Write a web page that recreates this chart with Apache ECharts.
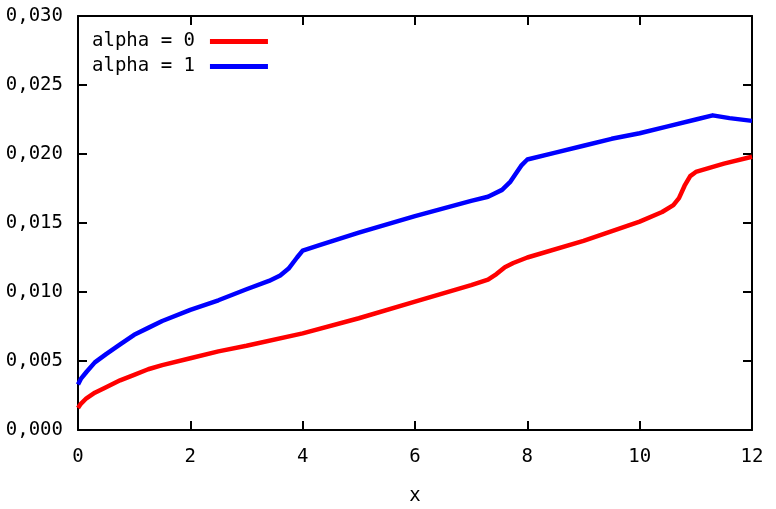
<!DOCTYPE html>
<html><head><meta charset="utf-8">
<script src="https://cdn.jsdelivr.net/npm/echarts@6/dist/echarts.min.js"></script>
<style>html,body{margin:0;padding:0;background:#fff}#c{width:776px;height:509px}</style>
</head><body><div id="c"></div>
<script>
const seriesNames = ['alpha = 0', 'alpha = 1'];
const xAlpha0 = [0, 0.05, 0.15, 0.3, 0.5, 0.75, 1, 1.25, 1.5, 2, 2.5, 3, 4, 5, 6, 7, 7.3, 7.45, 7.6, 7.75, 8, 9, 10, 10.4, 10.6, 10.7, 10.8, 10.9, 11, 11.5, 12];
const yAlpha0 = [0.0016, 0.0019, 0.0023, 0.0027, 0.0031, 0.0036, 0.0040, 0.0044, 0.0047, 0.0052, 0.0057, 0.0061, 0.0070, 0.0081, 0.0093, 0.0105, 0.0109, 0.0113, 0.0118, 0.0121, 0.0125, 0.0137, 0.0151, 0.0158, 0.0163, 0.0168, 0.0177, 0.0184, 0.0187, 0.0193, 0.0198];
const xAlpha1 = [0, 0.05, 0.15, 0.3, 0.5, 0.75, 1, 1.25, 1.5, 2, 2.5, 3, 3.4, 3.6, 3.75, 3.9, 4, 4.3, 5, 6, 7, 7.3, 7.55, 7.7, 7.8, 7.9, 8, 8.5, 9, 9.5, 10, 10.5, 11, 11.3, 11.6, 12];
const yAlpha1 = [0.0033, 0.0037, 0.0042, 0.0049, 0.0055, 0.0062, 0.0069, 0.0074, 0.0079, 0.0087, 0.0094, 0.0102, 0.0108, 0.0112, 0.0117, 0.0125, 0.0130, 0.0134, 0.0143, 0.0155, 0.0166, 0.0169, 0.0174, 0.0180, 0.0186, 0.0192, 0.0196, 0.0201, 0.0206, 0.0211, 0.0215, 0.0220, 0.0225, 0.0228, 0.0226, 0.0224];
const colors = ['#ff0000', '#0000ff'];
const xTicks = {min: 0, max: 12, interval: 2};
const yTicks = {min: 0, max: 0.03, interval: 0.005};

const font = 'DejaVu Sans Mono';
const pairs = (xs, ys) => xs.map((x, i) => [x, ys[i]]);
const chart = echarts.init(document.getElementById('c'), null, {renderer: 'canvas'});
const axisLine = {show: true, onZero: false, lineStyle: {color: '#000', width: 2}};
const tick = {show: true, inside: true, length: 9, lineStyle: {color: '#000', width: 2}};
chart.setOption({
  animation: false,
  backgroundColor: '#fff',
  grid: {left: 78, right: 24, top: 16, bottom: 79, containLabel: false, outerBoundsMode: 'none'},
  legend: {
    orient: 'vertical', left: 87, top: 27, align: 'right',
    icon: 'rect', itemWidth: 58, itemHeight: 5, itemGap: 6,
    textStyle: {fontFamily: font, fontSize: 19, color: '#000', padding: [0, 10, 0, 0]},
    data: seriesNames
  },
  xAxis: [{
    type: 'value', min: xTicks.min, max: xTicks.max, interval: xTicks.interval,
    name: 'x', nameLocation: 'middle', nameGap: 57,
    nameTextStyle: {fontFamily: font, fontSize: 19, color: '#000'},
    axisLine, axisTick: tick, splitLine: {show: false},
    axisLabel: {fontFamily: font, fontSize: 19, color: '#000', margin: 18}
  }, {
    type: 'value', position: 'top', min: xTicks.min, max: xTicks.max, interval: xTicks.interval,
    axisLine, axisTick: tick, splitLine: {show: false}, axisLabel: {show: false}
  }],
  yAxis: [{
    type: 'value', min: yTicks.min, max: yTicks.max, interval: yTicks.interval,
    axisLine, axisTick: tick, splitLine: {show: false},
    axisLabel: {fontFamily: font, fontSize: 19, color: '#000', margin: 15,
      formatter: v => v.toFixed(3).replace('.', ',')}
  }, {
    type: 'value', position: 'right', min: yTicks.min, max: yTicks.max, interval: yTicks.interval,
    axisLine, axisTick: tick, splitLine: {show: false}, axisLabel: {show: false}
  }],
  series: [
    {name: seriesNames[0], type: 'line', data: pairs(xAlpha0, yAlpha0), showSymbol: false,
     smooth: false, color: colors[0], lineStyle: {width: 4.5, color: colors[0], join: 'round'}, z: 3},
    {name: seriesNames[1], type: 'line', data: pairs(xAlpha1, yAlpha1), showSymbol: false,
     smooth: false, color: colors[1], lineStyle: {width: 4.5, color: colors[1], join: 'round'}, z: 3}
  ]
});
</script></body></html>
